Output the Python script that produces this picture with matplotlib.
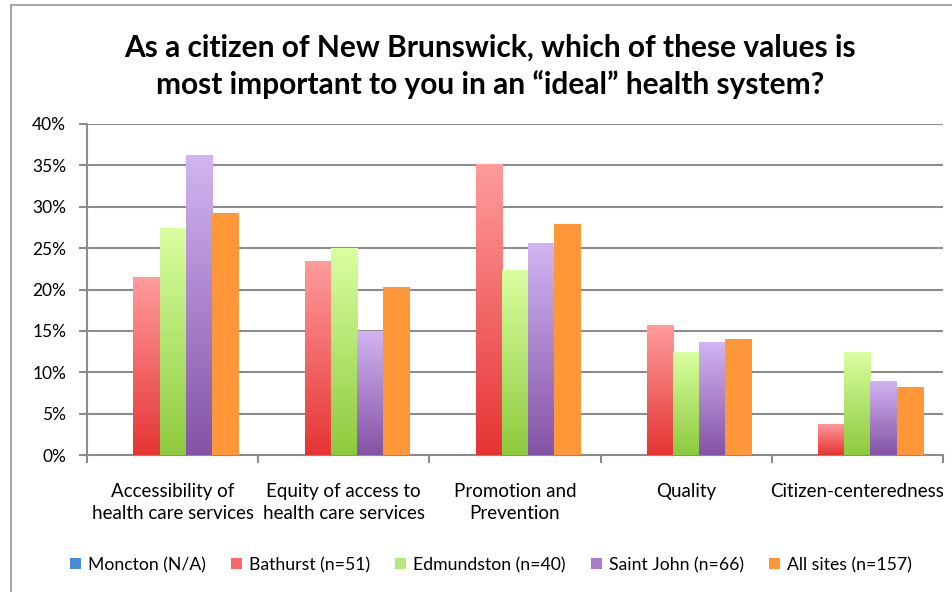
import numpy as np
import matplotlib
matplotlib.use("Agg")
import matplotlib.pyplot as plt
from matplotlib.colors import LinearSegmentedColormap
from matplotlib.patches import Rectangle

plt.rcParams['font.family'] = ['Lato', 'DejaVu Sans']

categories = ["Accessibility of\nhealth care services", "Equity of access to\nhealth care services",
              "Promotion and\nPrevention", "Quality", "Citizen-centeredness"]
series = ["Moncton (N/A)", "Bathurst (n=51)", "Edmundston (n=40)", "Saint John (n=66)", "All sites (n=157)"]

moncton = [0, 0, 0, 0, 0]
bathurst = [21.5, 23.4, 35.2, 15.7, 3.8]
edmundston = [27.4, 25.0, 22.4, 12.5, 12.5]
saint_john = [36.3, 15.0, 25.6, 13.6, 9.0]
all_sites = [29.2, 20.3, 27.9, 14.0, 8.2]

values = [moncton, bathurst, edmundston, saint_john, all_sites]
# (top colour, bottom colour) for each series
shades = [("#5a9be8", "#2f6fc8"), ("#ff9c9c", "#e63434"), ("#daffa0", "#8dca3e"),
          ("#d2b5f2", "#8453a6"), ("#ff9638", "#ff9638")]
legend_colors = ["#4a8ad8", "#f56a6a", "#b5e878", "#a97fcc", "#ff9638"]

fig = plt.figure(figsize=(9.53, 5.92), dpi=100)
ax = fig.add_axes([87 / 953, 1 - 455 / 592, 856 / 953, 331 / 592])

# outer frame
fig.add_artist(Rectangle((11 / 953, -0.1), 1.2, 1 - 5 / 592 + 0.1, transform=fig.transFigure,
                         fill=False, edgecolor="#a6a6a6", lw=1.5))

x = np.arange(len(categories))
w = 0.153
for i, (vals, (top, bottom)) in enumerate(zip(values, shades)):
    pos = x + (i - 2) * w
    bars = ax.bar(pos, vals, w, color=legend_colors[i], label=series[i], zorder=3)
    cmap = LinearSegmentedColormap.from_list("g%d" % i, [bottom, top])
    grad = np.linspace(0, 1, 256).reshape(-1, 1)
    for b in bars:
        if b.get_height() <= 0:
            continue
        im = ax.imshow(grad, cmap=cmap, origin="lower", aspect="auto", zorder=3.5,
                       extent=[b.get_x(), b.get_x() + b.get_width(), 0, b.get_height()])
        im.set_clip_path(b)

ax.set_xlim(-0.5, len(categories) - 0.5)
ax.set_ylim(0, 40)
ax.set_yticks(np.arange(0, 41, 5))
ax.set_yticklabels(["%d%%" % v for v in range(0, 41, 5)], fontsize=12.5)
ax.set_xticks(x)
ax.set_xticklabels(categories, fontsize=13.5, linespacing=1.35)
ax.set_xticks(np.arange(-0.5, len(categories), 1), minor=True)
ax.tick_params(axis="x", which="major", length=0, pad=20)
ax.tick_params(axis="x", which="minor", length=6, width=1.5, color="#8c8c8c")
ax.tick_params(axis="y", length=6, width=1.5, color="#8c8c8c", pad=9)
ax.yaxis.grid(True, color="#8c8c8c", lw=1.5, zorder=0)
ax.set_axisbelow(True)
for s in ["top", "right"]:
    ax.spines[s].set_visible(False)
for s in ["left", "bottom"]:
    ax.spines[s].set_color("#8c8c8c")
    ax.spines[s].set_linewidth(1.5)

fig.text(490 / 953, 1 - 66 / 592,
         "As a citizen of New Brunswick, which of these values is\nmost important to you in an \u201cideal\u201d health system?",
         ha="center", va="center", fontsize=21.5, fontweight="bold", linespacing=1.35)

handles, labels = ax.get_legend_handles_labels()
fig.legend(handles, labels, loc="center", bbox_to_anchor=(491 / 953, 1 - 565 / 592), ncol=5,
           frameon=False, fontsize=12.7, handlelength=0.6, handleheight=0.6, handletextpad=0.4,
           columnspacing=1.45)

fig.savefig("out.png", dpi=100)
